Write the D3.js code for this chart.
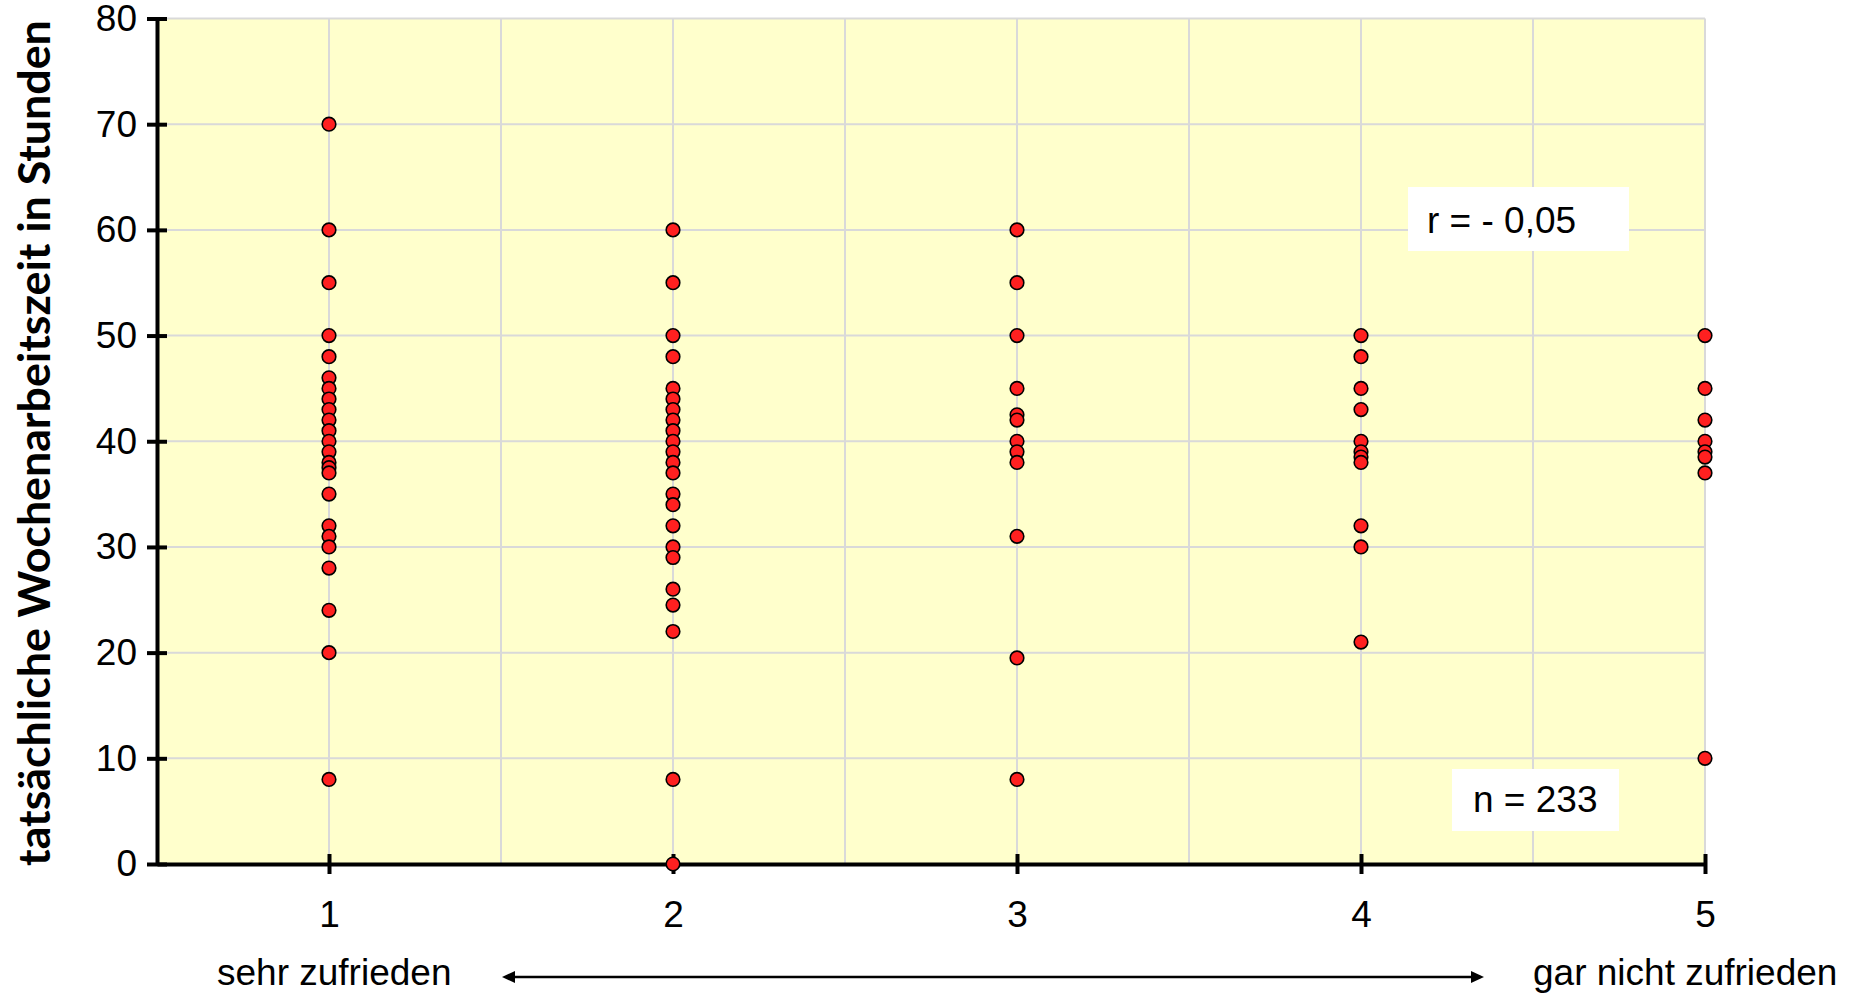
<!DOCTYPE html>
<html>
<head>
<meta charset="utf-8">
<script src="https://cdn.jsdelivr.net/npm/d3@7"></script>
<style>
  html, body { margin: 0; padding: 0; background: #ffffff; }
  svg { display: block; }
</style>
</head>
<body>
<svg id="chart" width="1859" height="994"></svg>
<script>
// ---- data ----
const categories = [1, 2, 3, 4, 5];
const hoursCat1 = [70, 60, 55, 50, 48, 46, 45, 44, 43, 42, 41, 40, 39, 38, 37.5, 37, 35, 32, 31, 30, 28, 24, 20, 8];
const hoursCat2 = [60, 55, 50, 48, 45, 44, 43, 42, 41, 40, 39, 38, 37, 35, 34, 32, 30, 29, 26, 24.5, 22, 8, 0];
const hoursCat3 = [60, 55, 50, 45, 42.5, 42, 40, 39, 38, 31, 19.5, 8];
const hoursCat4 = [50, 48, 45, 43, 40, 39, 38.5, 38, 32, 30, 21];
const hoursCat5 = [50, 45, 42, 40, 39, 38.5, 37, 10];
const seriesByCategory = [hoursCat1, hoursCat2, hoursCat3, hoursCat4, hoursCat5];
const yTicks = [0, 10, 20, 30, 40, 50, 60, 70, 80];
const xGridValues = [1, 1.5, 2, 2.5, 3, 3.5, 4, 4.5, 5];
const yTitle = "tatsächliche Wochenarbeitszeit in Stunden";
const scaleEndLabels = ["sehr zufrieden", "gar nicht zufrieden"];
const rText = "r = - 0,05";
const nText = "n = 233";

// ---- layout ----
const svg = d3.select("#chart");
const pLeft = 157, pRight = 1705, pTop = 18.5, pBottom = 864;
const x = d3.scaleLinear().domain([0.5, 5]).range([pLeft, pRight]);
const y = d3.scaleLinear().domain([0, 80]).range([pBottom, pTop]);
const tickFont = "'Liberation Sans', Arial, sans-serif";
const fs = 37;

// plot background
svg.append("rect")
  .attr("x", pLeft).attr("y", pTop)
  .attr("width", pRight - pLeft).attr("height", pBottom - pTop)
  .attr("fill", "#FFFFCC");

// grid
const grid = svg.append("g").attr("stroke", "#D9D9D9").attr("stroke-width", 2);
grid.selectAll("line.h").data(yTicks.filter(d => d > 0)).join("line").attr("class", "h")
  .attr("x1", pLeft).attr("x2", pRight)
  .attr("y1", d => y(d)).attr("y2", d => y(d));
grid.selectAll("line.v").data(xGridValues).join("line").attr("class", "v")
  .attr("x1", d => x(d)).attr("x2", d => x(d))
  .attr("y1", pTop).attr("y2", pBottom);

// annotation boxes
function box(bx, by, bw, bh, tx, ty, txt) {
  svg.append("rect").attr("x", bx).attr("y", by).attr("width", bw).attr("height", bh).attr("fill", "#ffffff");
  svg.append("text").attr("x", tx).attr("y", ty)
    .attr("font-family", tickFont).attr("font-size", fs).attr("fill", "#000").text(txt);
}
box(1408, 187, 221, 64, 1427, 233, rText);
box(1452, 769, 167, 62, 1473, 812, nText);

// axes
const yAxis = svg.append("g").attr("transform", `translate(${pLeft},0)`)
  .call(d3.axisLeft(y).tickValues(yTicks).tickSize(10).tickSizeOuter(0).tickPadding(10));
yAxis.selectAll(".tick line").attr("x1", 10).attr("x2", -10);
const xAxis = svg.append("g").attr("transform", `translate(0,${pBottom})`)
  .call(d3.axisBottom(x).tickValues(categories).tickFormat(d3.format("d"))
    .tickSize(10).tickSizeOuter(0).tickPadding(27));
xAxis.selectAll(".tick line").attr("y1", -10).attr("y2", 10);

[yAxis, xAxis].forEach(a => {
  a.select(".domain").attr("stroke", "#000").attr("stroke-width", 4);
  a.selectAll(".tick line").attr("stroke", "#000").attr("stroke-width", 4);
  a.selectAll(".tick text").attr("font-family", tickFont).attr("font-size", fs).attr("fill", "#000");
});

// points
const points = [];
seriesByCategory.forEach((vals, i) => vals.forEach(v => points.push({ c: categories[i], v })));
svg.append("g").selectAll("circle").data(points).join("circle")
  .attr("cx", d => x(d.c)).attr("cy", d => y(d.v)).attr("r", 6.8)
  .attr("fill", "#FF2020").attr("stroke", "#000").attr("stroke-width", 1.6);

// y title
const yt = svg.append("text")
  .attr("transform", "translate(50,866) rotate(-90)")
  .attr("font-family", "Lato, 'Open Sans', sans-serif").attr("font-weight", 700)
  .attr("font-size", 40).attr("fill", "#000").text(yTitle);
const len = yt.node().getComputedTextLength();
yt.attr("font-size", 40 * 846 / len);

// scale end labels
svg.append("text").attr("x", 217).attr("y", 985)
  .attr("font-family", tickFont).attr("font-size", fs).text(scaleEndLabels[0]);
svg.append("text").attr("x", 1533).attr("y", 985)
  .attr("font-family", tickFont).attr("font-size", fs).text(scaleEndLabels[1]);

// double arrow
const ay = 977, ax1 = 502, ax2 = 1484;
svg.append("line").attr("x1", ax1 + 8).attr("x2", ax2 - 8).attr("y1", ay).attr("y2", ay)
  .attr("stroke", "#000").attr("stroke-width", 2.5);
svg.append("path").attr("d", `M${ax1},${ay} L${ax1 + 13},${ay - 6} L${ax1 + 13},${ay + 6} Z`).attr("fill", "#000");
svg.append("path").attr("d", `M${ax2},${ay} L${ax2 - 13},${ay - 6} L${ax2 - 13},${ay + 6} Z`).attr("fill", "#000");
</script>
</body>
</html>
